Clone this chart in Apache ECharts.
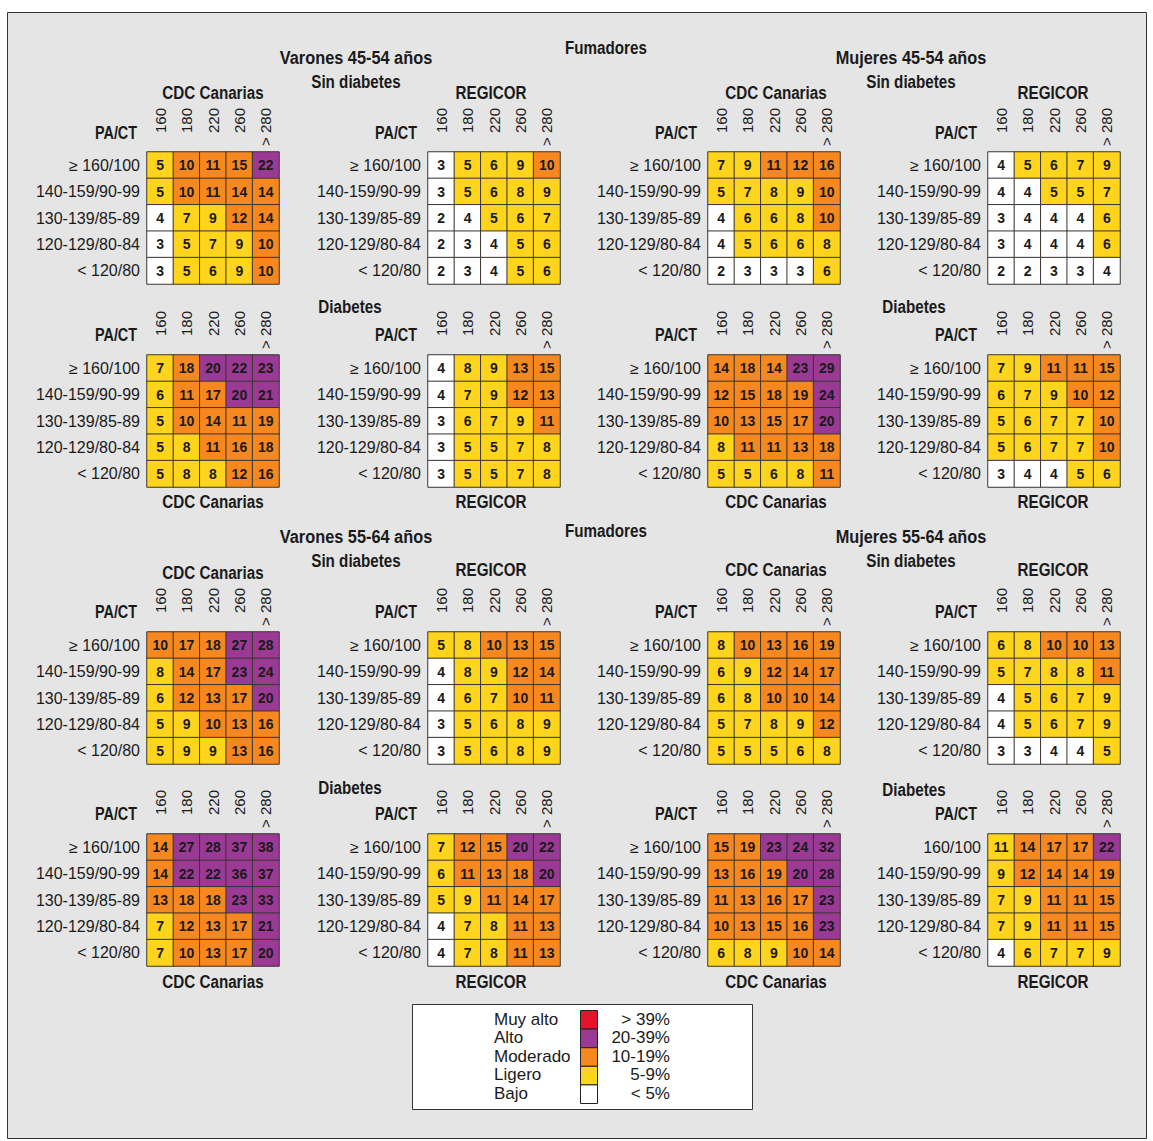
<!DOCTYPE html>
<html><head><meta charset="utf-8">
<script src="https://cdn.jsdelivr.net/npm/echarts@6/dist/echarts.min.js"></script>
<style>html,body{margin:0;padding:0;background:#fff}#c{width:1153px;height:1141px}</style>
</head><body><div id="c"></div>
<script>
// ---------- data ----------
const ctLabels = ['160', '180', '220', '260', '> 280'];
const paLabels = ['≥ 160/100', '140-159/90-99', '130-139/85-89', '120-129/80-84', '< 120/80'];
const paLabelsM5564Dia = ['160/100', '140-159/90-99', '130-139/85-89', '120-129/80-84', '< 120/80'];

const levelNames = ['Muy alto', 'Alto', 'Moderado', 'Ligero', 'Bajo'];
const levelRanges = ['> 39%', '20-39%', '10-19%', '5-9%', '< 5%'];
const levelMins = [40, 20, 10, 5, 0];

// Varones 45-54, sin diabetes
const v4554SinCDC = [[5,10,11,15,22],[5,10,11,14,14],[4,7,9,12,14],[3,5,7,9,10],[3,5,6,9,10]];
const v4554SinREG = [[3,5,6,9,10],[3,5,6,8,9],[2,4,5,6,7],[2,3,4,5,6],[2,3,4,5,6]];
// Mujeres 45-54, sin diabetes
const m4554SinCDC = [[7,9,11,12,16],[5,7,8,9,10],[4,6,6,8,10],[4,5,6,6,8],[2,3,3,3,6]];
const m4554SinREG = [[4,5,6,7,9],[4,4,5,5,7],[3,4,4,4,6],[3,4,4,4,6],[2,2,3,3,4]];
// Varones 45-54, diabetes
const v4554DiaCDC = [[7,18,20,22,23],[6,11,17,20,21],[5,10,14,11,19],[5,8,11,16,18],[5,8,8,12,16]];
const v4554DiaREG = [[4,8,9,13,15],[4,7,9,12,13],[3,6,7,9,11],[3,5,5,7,8],[3,5,5,7,8]];
// Mujeres 45-54, diabetes
const m4554DiaCDC = [[14,18,14,23,29],[12,15,18,19,24],[10,13,15,17,20],[8,11,11,13,18],[5,5,6,8,11]];
const m4554DiaREG = [[7,9,11,11,15],[6,7,9,10,12],[5,6,7,7,10],[5,6,7,7,10],[3,4,4,5,6]];
// Varones 55-64, sin diabetes
const v5564SinCDC = [[10,17,18,27,28],[8,14,17,23,24],[6,12,13,17,20],[5,9,10,13,16],[5,9,9,13,16]];
const v5564SinREG = [[5,8,10,13,15],[4,8,9,12,14],[4,6,7,10,11],[3,5,6,8,9],[3,5,6,8,9]];
// Mujeres 55-64, sin diabetes
const m5564SinCDC = [[8,10,13,16,19],[6,9,12,14,17],[6,8,10,10,14],[5,7,8,9,12],[5,5,5,6,8]];
const m5564SinREG = [[6,8,10,10,13],[5,7,8,8,11],[4,5,6,7,9],[4,5,6,7,9],[3,3,4,4,5]];
// Varones 55-64, diabetes
const v5564DiaCDC = [[14,27,28,37,38],[14,22,22,36,37],[13,18,18,23,33],[7,12,13,17,21],[7,10,13,17,20]];
const v5564DiaREG = [[7,12,15,20,22],[6,11,13,18,20],[5,9,11,14,17],[4,7,8,11,13],[4,7,8,11,13]];
// Mujeres 55-64, diabetes
const m5564DiaCDC = [[15,19,23,24,32],[13,16,19,20,28],[11,13,16,17,23],[10,13,15,16,23],[6,8,9,10,14]];
const m5564DiaREG = [[11,14,17,17,22],[9,12,14,14,19],[7,9,11,11,15],[7,9,11,11,15],[4,6,7,7,9]];

// cells whose printed colour differs from the value band: [panel, row, col, level]
const levelOverrides = [['m5564DiaREG', 0, 0, 3]];

// ---------- styling / layout ----------
const levelColors = ['#e8122c', '#9b3a95', '#f7871f', '#ffd41c', '#ffffff'];
const SANS = "'Liberation Sans',Arial,Helvetica,sans-serif";
const TXT = '#1a1a1a';
const colX = [147, 428, 708, 988];
const bandY = [152, 355, 632, 834];
const SZ = 132;

const panels = [
  ['v4554SinCDC', v4554SinCDC, 0, 0, paLabels], ['v4554SinREG', v4554SinREG, 1, 0, paLabels],
  ['m4554SinCDC', m4554SinCDC, 2, 0, paLabels], ['m4554SinREG', m4554SinREG, 3, 0, paLabels],
  ['v4554DiaCDC', v4554DiaCDC, 0, 1, paLabels], ['v4554DiaREG', v4554DiaREG, 1, 1, paLabels],
  ['m4554DiaCDC', m4554DiaCDC, 2, 1, paLabels], ['m4554DiaREG', m4554DiaREG, 3, 1, paLabels],
  ['v5564SinCDC', v5564SinCDC, 0, 2, paLabels], ['v5564SinREG', v5564SinREG, 1, 2, paLabels],
  ['m5564SinCDC', m5564SinCDC, 2, 2, paLabels], ['m5564SinREG', m5564SinREG, 3, 2, paLabels],
  ['v5564DiaCDC', v5564DiaCDC, 0, 3, paLabels], ['v5564DiaREG', v5564DiaREG, 1, 3, paLabels],
  ['m5564DiaCDC', m5564DiaCDC, 2, 3, paLabels], ['m5564DiaREG', m5564DiaREG, 3, 3, paLabelsM5564Dia]
];

function levelOf(v) {
  for (let i = 0; i < levelMins.length; i++) if (v >= levelMins[i]) return i;
  return levelMins.length - 1;
}

const grids = [], xAxes = [], yAxes = [], series = [];
panels.forEach(([name, vals, c, b, rows], i) => {
  grids.push({left: colX[c], top: bandY[b], width: SZ, height: SZ, outerBoundsMode: 'none', containLabel: false});
  xAxes.push({
    gridIndex: i, type: 'category', data: ctLabels, position: 'top',
    axisLine: {show: false}, axisTick: {show: false}, splitLine: {show: false},
    axisLabel: {interval: 0, rotate: -90, align: 'right', verticalAlign: 'middle', margin: 44,
      fontSize: 15, fontFamily: SANS, color: TXT}
  });
  yAxes.push({
    gridIndex: i, type: 'category', data: rows, inverse: true,
    axisLine: {show: false}, axisTick: {show: false}, splitLine: {show: false},
    axisLabel: {interval: 0, margin: 7, fontSize: 16, fontFamily: SANS, color: TXT}
  });
  const data = [];
  vals.forEach((row, r) => row.forEach((v, k) => {
    let lv = levelOf(v);
    levelOverrides.forEach(o => { if (o[0] === name && o[1] === r && o[2] === k) lv = o[3]; });
    data.push({value: [k, r, v], itemStyle: {color: levelColors[lv]}});
  }));
  series.push({
    type: 'heatmap', xAxisIndex: i, yAxisIndex: i, data,
    itemStyle: {borderColor: '#3a3530', borderWidth: 1},
    label: {show: true, formatter: p => p.value[2], fontSize: 14, fontWeight: 'bold',
      fontFamily: SANS, color: TXT},
    emphasis: {disabled: true}, silent: true
  });
});

// ---------- texts ----------
function T(text, x, y, font, align, sx) {
  return {type: 'text', silent: true, z: 10, x, y, scaleX: sx || 1,
    style: {text, x: 0, y: 0, font, fill: TXT, align: align || 'center', verticalAlign: 'middle',
      textAlign: align || 'center', textVerticalAlign: 'middle'}};
}
const TB = "bold 19px " + SANS;
const K = 0.8;
const H = (t, x, y, k) => T(t, x, y, TB, 'center', k || K);
const g = [];
g.push({type: 'rect', silent: true, z: 0, shape: {x: 7.5, y: 12.5, width: 1139, height: 1126},
  style: {fill: '#e5e5e5', stroke: '#333', lineWidth: 1}});

const pactX = [116, 396, 676, 956];
const pactY = [132, 334, 611, 813];
pactY.forEach(y => pactX.forEach(x => g.push(T('PA/CT', x, y, "bold 18px " + SANS, 'center', K))));

g.push(H('Fumadores', 606, 47));
g.push(H('Varones 45-54 años', 356, 58, 0.86));
g.push(H('Sin diabetes', 356, 81));
g.push(H('Mujeres 45-54 años', 911, 58, 0.86));
g.push(H('Sin diabetes', 911, 81));
[['CDC Canarias', 213, 92], ['REGICOR', 491, 92], ['CDC Canarias', 776, 92], ['REGICOR', 1053, 92]]
  .forEach(a => g.push(H(a[0], a[1], a[2])));
g.push(H('Diabetes', 350, 306));
g.push(H('Diabetes', 914, 306));
[['CDC Canarias', 213, 501], ['REGICOR', 491, 501], ['CDC Canarias', 776, 501], ['REGICOR', 1053, 501]]
  .forEach(a => g.push(H(a[0], a[1], a[2])));

g.push(H('Fumadores', 606, 530));
g.push(H('Varones 55-64 años', 356, 537, 0.86));
g.push(H('Sin diabetes', 356, 560));
g.push(H('Mujeres 55-64 años', 911, 537, 0.86));
g.push(H('Sin diabetes', 911, 560));
[['CDC Canarias', 213, 572], ['REGICOR', 491, 569], ['CDC Canarias', 776, 569], ['REGICOR', 1053, 569]]
  .forEach(a => g.push(H(a[0], a[1], a[2])));
g.push(H('Diabetes', 350, 787));
g.push(H('Diabetes', 914, 789));
[['CDC Canarias', 213, 981], ['REGICOR', 491, 981], ['CDC Canarias', 776, 981], ['REGICOR', 1053, 981]]
  .forEach(a => g.push(H(a[0], a[1], a[2])));

// legend
g.push({type: 'rect', silent: true, z: 5, shape: {x: 412.5, y: 1004.5, width: 340, height: 105},
  style: {fill: '#fff', stroke: '#333', lineWidth: 1}});
const LH = 18.6;
levelNames.forEach((n, i) => {
  const cy = 1019 + i * LH;
  g.push({type: 'rect', silent: true, z: 6, shape: {x: 580.5, y: 1010.5 + i * LH, width: 17, height: LH},
    style: {fill: levelColors[i], stroke: '#222', lineWidth: 1}});
  g.push(T(n, 494, cy, "17px " + SANS, 'left'));
  g.push(T(levelRanges[i], 670, cy, "17px " + SANS, 'right'));
});

const chart = echarts.init(document.getElementById('c'), null, {renderer: 'svg'});
chart.setOption({
  animation: false,
  backgroundColor: '#ffffff',
  grid: grids, xAxis: xAxes, yAxis: yAxes, series,
  graphic: g
});
</script></body></html>
